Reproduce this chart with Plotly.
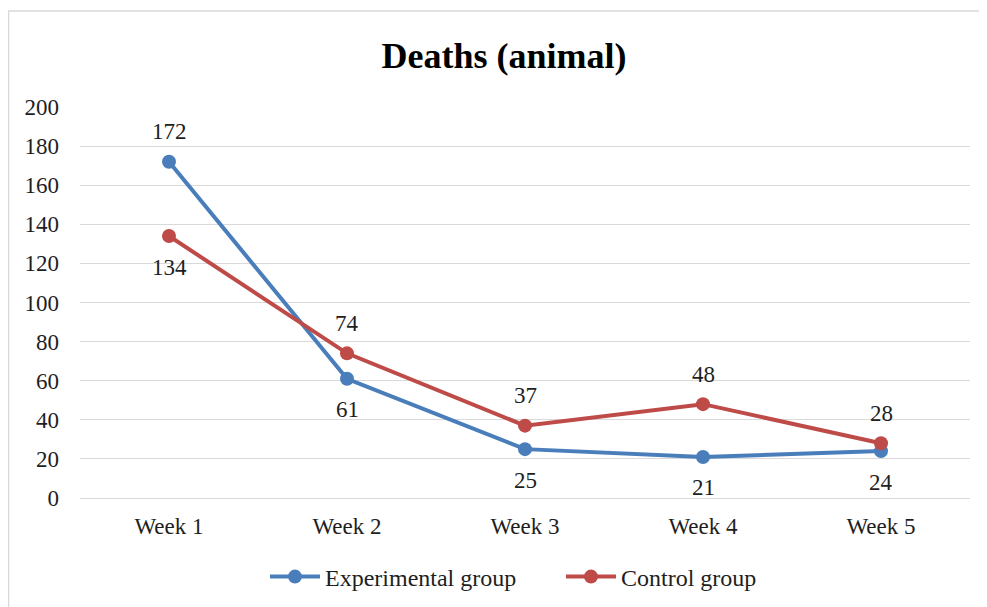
import plotly.graph_objects as go

weeks = ["Week 1", "Week 2", "Week 3", "Week 4", "Week 5"]
experimental = [172, 61, 25, 21, 24]
control = [134, 74, 37, 48, 28]
exp_above = [True, False, False, False, False]
ctl_above = [False, True, True, True, True]

FONT = "Liberation Serif, Times New Roman, serif"
BLUE = "#4A7EBB"
RED = "#BE4B48"
TXT = "#1E1E1E"

fig = go.Figure()
fig.add_trace(go.Scatter(
    x=weeks, y=experimental, name="Experimental group", mode="lines+markers",
    line=dict(color=BLUE, width=4), marker=dict(size=14, color=BLUE),
))
fig.add_trace(go.Scatter(
    x=weeks, y=control, name="Control group", mode="lines+markers",
    line=dict(color=RED, width=4), marker=dict(size=14, color=RED),
))

for vals, above in ((experimental, exp_above), (control, ctl_above)):
    for wk, v, a in zip(weeks, vals, above):
        fig.add_annotation(x=wk, y=v, text=str(v), showarrow=False,
                           yshift=30 if a else -31,
                           font=dict(family=FONT, size=23, color=TXT))

# page body has an 8px margin; figure coords = screen coords - 8
OFF = 8
W, H = 979, 599
L, R, T, B = 80 - OFF, W - (970 - OFF), 107 - OFF, H - (498 - OFF)
pw, ph = W - L - R, H - T - B

def px_x(p):
    return (p - OFF - L) / pw

def px_y(p):
    return (H - B - (p - OFF)) / ph

fig.add_shape(type="rect", xref="paper", yref="paper",
              x0=px_x(8.5), x1=px_x(983), y0=px_y(640), y1=px_y(11),
              line=dict(color="#D9D9D9", width=1.5), fillcolor="rgba(0,0,0,0)", layer="below")

fig.update_layout(
    width=W, height=H,
    margin=dict(l=L, r=R, t=T, b=B, autoexpand=False),
    paper_bgcolor="white", plot_bgcolor="white",
    font=dict(family=FONT, size=23, color=TXT),
    title=dict(text="<b>Deaths (animal)</b>", x=(504 - OFF) / W, xanchor="center",
               y=1 - (55 - OFF) / H, yanchor="middle",
               font=dict(family=FONT, size=36, color="black")),
    showlegend=True,
    legend=dict(orientation="h", x=(265 - OFF) / W, xref="container", xanchor="left",
                y=1 - (577 - OFF) / H, yref="container", yanchor="middle",
                font=dict(family=FONT, size=24, color=TXT),
                itemwidth=50, entrywidth=231, entrywidthmode="pixels", tracegroupgap=0),
    xaxis=dict(range=[-0.5, 4.5], showgrid=False, showline=False, zeroline=False, ticks="",
               tickfont=dict(family=FONT, size=23, color=TXT), ticklabelstandoff=12),
    yaxis=dict(range=[0, 200], dtick=20, showgrid=True, gridcolor="#D9D9D9", gridwidth=1,
               zeroline=True, zerolinecolor="#D9D9D9", zerolinewidth=1, showline=False, ticks="",
               tickfont=dict(family=FONT, size=23, color=TXT), ticklabelstandoff=20),
)

fig.write_html("out.html")
